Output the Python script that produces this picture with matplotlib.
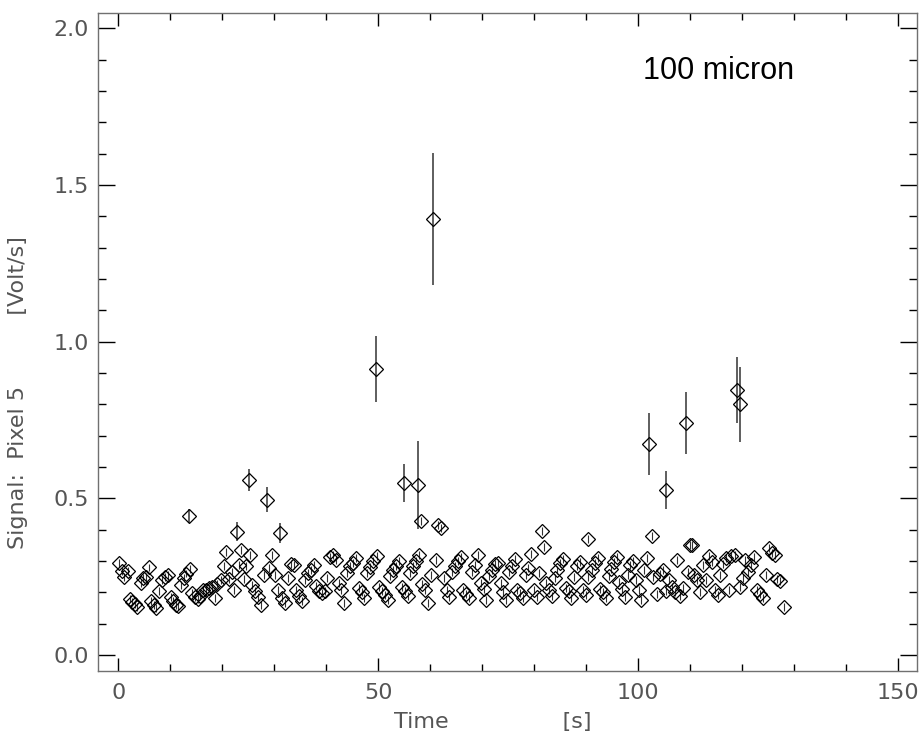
import numpy as np
import matplotlib
matplotlib.use("Agg")
import matplotlib.pyplot as plt
from matplotlib.ticker import MultipleLocator

# time [s] and signal [Volt/s] of the regular samples
time = [0.1, 0.7, 1.1, 1.9, 2.3, 2.6, 3.2, 3.6, 4.4, 4.8, 5.3, 5.9, 6.3, 6.9, 7.3,
        7.8, 8.4, 9.0, 9.6, 10.2, 10.6, 11.1, 11.5, 12.1, 12.6, 13.0, 13.8, 14.2,
        14.8, 15.4, 15.8, 16.3, 16.9, 17.5, 18.0, 18.6, 19.0, 19.8, 20.4, 20.7,
        21.3, 21.9, 22.3, 23.3, 23.6, 24.2, 24.6, 25.4, 25.8, 26.3, 26.9, 27.4,
        28.0, 29.0, 29.6, 30.2, 30.7, 31.5, 32.1, 32.6, 33.3, 33.8, 34.2, 34.8,
        35.4, 35.9, 36.5, 37.1, 37.6, 38.0, 38.6, 39.2, 39.8, 40.2, 40.7, 41.3,
        41.9, 42.4, 42.8, 43.4, 44.0, 44.6, 45.2, 45.7, 46.3, 46.9, 47.3, 47.8,
        48.4, 49.0, 49.7, 50.1, 50.7, 51.3, 51.9, 52.3, 52.9, 53.4, 54.0, 54.5,
        55.1, 55.7, 56.1, 56.7, 57.2, 57.8, 58.2, 58.4, 58.9, 59.5, 60.1, 61.0,
        61.5, 62.0, 62.7, 63.2, 63.6, 64.2, 64.8, 65.3, 65.9, 66.3, 66.9, 67.5,
        68.0, 68.6, 69.1, 69.7, 70.3, 70.8, 71.3, 71.9, 72.5, 73.0, 73.6, 74.0,
        74.6, 75.1, 75.7, 76.3, 76.7, 77.2, 77.8, 78.4, 78.8, 79.3, 79.9, 80.5,
        80.9, 81.5, 81.9, 82.3, 82.8, 83.4, 84.0, 84.4, 84.9, 85.5, 86.1, 86.6,
        87.0, 87.6, 88.2, 88.7, 89.3, 89.9, 90.3, 90.4, 91.0, 91.6, 92.2, 92.6,
        93.2, 93.8, 94.3, 94.8, 95.3, 95.9, 96.3, 96.8, 97.4, 98.0, 98.4, 99.0,
        99.5, 100.1, 100.6, 101.0, 101.6, 102.6, 102.9, 103.5, 104.1, 104.7,
        105.3, 105.9, 106.5, 107.1, 107.4, 108.0, 108.6, 109.5, 109.9, 110.3,
        110.7, 111.2, 111.8, 112.4, 113.0, 113.5, 114.1, 114.7, 115.3, 115.7,
        116.3, 116.8, 117.4, 117.8, 118.5, 119.5, 120.1, 120.5, 121.1, 121.7,
        122.2, 122.8, 123.4, 124.0, 124.5, 125.1, 125.7, 126.3, 126.7, 127.2,
        128.0]
signal = [0.294, 0.268, 0.249, 0.268, 0.180, 0.170, 0.163, 0.153, 0.230, 0.246,
          0.249, 0.280, 0.172, 0.160, 0.150, 0.204, 0.240, 0.249, 0.255, 0.185,
          0.172, 0.160, 0.156, 0.223, 0.246, 0.260, 0.274, 0.198, 0.185, 0.179,
          0.188, 0.207, 0.207, 0.214, 0.217, 0.182, 0.227, 0.239, 0.284, 0.329,
          0.243, 0.265, 0.207, 0.287, 0.335, 0.243, 0.284, 0.319, 0.223, 0.204,
          0.185, 0.160, 0.255, 0.278, 0.319, 0.255, 0.207, 0.182, 0.166, 0.246,
          0.290, 0.287, 0.207, 0.188, 0.172, 0.239, 0.262, 0.271, 0.287, 0.220,
          0.204, 0.198, 0.204, 0.246, 0.313, 0.319, 0.303, 0.230, 0.207, 0.166,
          0.262, 0.284, 0.294, 0.310, 0.214, 0.201, 0.182, 0.262, 0.281, 0.300,
          0.316, 0.217, 0.204, 0.192, 0.176, 0.252, 0.271, 0.284, 0.300, 0.217,
          0.204, 0.188, 0.262, 0.284, 0.300, 0.319, 0.428, 0.227, 0.207, 0.166,
          0.255, 0.303, 0.415, 0.405, 0.246, 0.207, 0.185, 0.265, 0.284, 0.300,
          0.313, 0.207, 0.195, 0.182, 0.265, 0.287, 0.319, 0.230, 0.211, 0.176,
          0.252, 0.271, 0.290, 0.294, 0.230, 0.201, 0.176, 0.265, 0.284, 0.306,
          0.207, 0.198, 0.182, 0.255, 0.278, 0.322, 0.207, 0.185, 0.262, 0.396,
          0.345, 0.230, 0.207, 0.188, 0.246, 0.271, 0.294, 0.306, 0.214, 0.204,
          0.182, 0.249, 0.284, 0.297, 0.207, 0.192, 0.370, 0.249, 0.271, 0.294,
          0.310, 0.211, 0.201, 0.182, 0.252, 0.274, 0.297, 0.313, 0.233, 0.211,
          0.185, 0.255, 0.287, 0.300, 0.239, 0.207, 0.176, 0.271, 0.310, 0.380,
          0.249, 0.195, 0.258, 0.271, 0.204, 0.239, 0.217, 0.201, 0.303, 0.188,
          0.214, 0.265, 0.351, 0.351, 0.255, 0.239, 0.201, 0.287, 0.239, 0.316,
          0.297, 0.207, 0.192, 0.255, 0.290, 0.310, 0.207, 0.316, 0.319, 0.217,
          0.246, 0.303, 0.265, 0.287, 0.313, 0.207, 0.195, 0.182, 0.255, 0.341,
          0.326, 0.319, 0.243, 0.236, 0.153]
typical_err = 0.012

# samples with large signal and visible error bars
time_hi = [13.6, 22.9, 25.1, 28.6, 31.1, 49.5, 55.0, 57.6, 60.5, 102.0, 105.3,
           109.2, 118.9, 119.5]
signal_hi = [0.444, 0.393, 0.558, 0.495, 0.389, 0.913, 0.549, 0.543, 1.392,
             0.673, 0.527, 0.740, 0.846, 0.800]
err_hi = [0.022, 0.030, 0.035, 0.040, 0.032, 0.105, 0.060, 0.140, 0.210,
          0.100, 0.060, 0.100, 0.105, 0.120]

fig = plt.figure(figsize=(9.22, 7.42), dpi=100)
ax = fig.add_axes([0.1066, 0.0957, 0.8880, 0.8863])

ax.errorbar(time, signal, yerr=typical_err, fmt='D', ms=7, mfc='none', mec='black',
            mew=0.9, ecolor='#333333', elinewidth=0.8, capsize=0)
ax.errorbar(time_hi, signal_hi, yerr=err_hi, fmt='D', ms=7, mfc='none', mec='black',
            mew=0.9, ecolor='#333333', elinewidth=1.1, capsize=0)

ax.set_xlim(-3.85, 153.6)
ax.set_ylim(-0.051, 2.048)
ax.xaxis.set_major_locator(MultipleLocator(50))
ax.xaxis.set_minor_locator(MultipleLocator(10))
ax.yaxis.set_major_locator(MultipleLocator(0.5))
ax.yaxis.set_minor_locator(MultipleLocator(0.1))
ax.xaxis.set_major_formatter(plt.FuncFormatter(lambda v, p: '%d' % v))
ax.yaxis.set_major_formatter(plt.FuncFormatter(lambda v, p: '%.1f' % v))

ax.tick_params(which='both', direction='in', top=True, right=True, colors='black',
               labelcolor='#555555', labelsize=16, width=1)
ax.tick_params(axis='x', which='major', length=9.5, pad=9)
ax.tick_params(axis='x', which='minor', length=5)
ax.tick_params(axis='y', which='major', length=12, pad=7)
ax.tick_params(axis='y', which='minor', length=6)
for sp in ax.spines.values():
    sp.set_color('#707070')
    sp.set_linewidth(1.0)

fig.text(0.534, 0.027, 'Time                [s]', ha='center', va='center',
         fontsize=16, color='#555555')
fig.text(0.020, 0.471, 'Signal:  Pixel 5          [Volt/s]', ha='center', va='center',
         rotation=90, fontsize=16, color='#555555')

ax.text(0.665, 0.912, '100 micron', transform=ax.transAxes, fontsize=22,
        family='Liberation Sans', color='black', ha='left', va='center')

plt.savefig('out.png', dpi=100)
